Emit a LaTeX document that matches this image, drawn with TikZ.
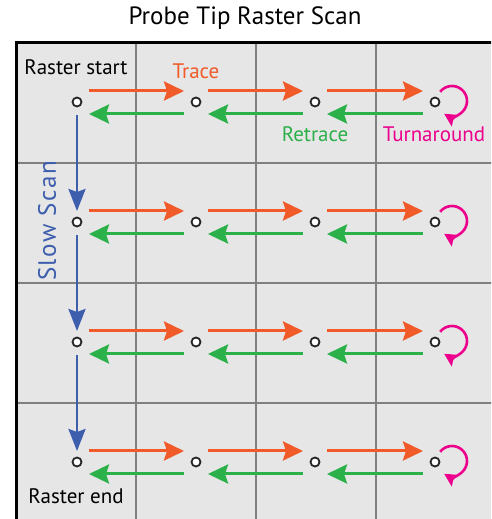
\documentclass[tikz,border=0pt]{standalone}
\usepackage{fontspec}
\setmainfont{PT Sans}
\usetikzlibrary{arrows.meta}
\definecolor{traceC}{HTML}{F15A29}
\definecolor{retraceC}{HTML}{2BB04A}
\definecolor{slowC}{HTML}{3D5DAD}
\definecolor{turnC}{HTML}{EC008C}
\definecolor{gridC}{HTML}{808080}
\definecolor{cellC}{HTML}{E6E6E6}
\tikzset{
  dot/.style={circle, draw=black!85, fill=white, line width=1.8pt, inner sep=0pt, minimum size=9pt},
  tracearrow/.style={traceC, line width=3pt, -{Stealth[length=20pt,width=19pt,inset=3pt]}},
  retracearrow/.style={retraceC, line width=3pt, -{Stealth[length=20pt,width=19pt,inset=3pt]}},
  slowarrow/.style={slowC, line width=2.6pt, -{Stealth[length=22pt,width=17pt,inset=3pt]}},
  turnarrow/.style={turnC, line width=2.6pt, -{Stealth[length=13pt,width=13pt,inset=2pt]}},
  lbl/.style={font=\fontsize{21}{24}\selectfont, inner sep=0pt},
}
\begin{document}
\begin{tikzpicture}[x=1pt,y=1pt]
\useasboundingbox (0,0) rectangle (491,519);
\begin{scope}
\clip (0,0) rectangle (491,519);
\fill[cellC] (16,-4) rectangle (496,476);
\foreach \x in {136,256,376} \draw[gridC, line width=2pt] (\x,-4) -- (\x,476);
\foreach \y in {356,236,116} \draw[gridC, line width=2pt] (16,\y) -- (496,\y);
\draw[black, line width=3pt] (16,-10) -- (16,476) -- (500,476);
\end{scope}
\node[font=\fontsize{25}{30}\selectfont, inner sep=0pt] (title) at (245,501) {Probe Tip Raster Scan};
% dots
\foreach \r/\y in {1/417,2/297,3/177,4/57}{
  \foreach \c/\x in {1/77,2/196,3/315,4/435}{
    \node[dot] (d\r\c) at (\x,\y) {};
  }
}
% trace / retrace arrows
\foreach \r in {1,2,3,4}{
  \foreach \c/\n in {1/2,2/3,3/4}{
    \draw[tracearrow] ([shift={(12,11)}]d\r\c.center) -- ([shift={(-12,11)}]d\r\n.center);
    \draw[retracearrow] ([shift={(-12,-12)}]d\r\n.center) -- ([shift={(12,-12)}]d\r\c.center);
  }
  \draw[turnarrow] ([shift={(17,1)}]d\r4.center) ++(142:15) arc[start angle=142, end angle=-122, radius=15];
}
% slow scan arrows
\foreach \r/\n in {1/2,2/3,3/4}{
  \draw[slowarrow] ([shift={(0,-13)}]d\r1.center) -- ([shift={(0,11)}]d\n1.center);
}
\node[lbl] (rs) at (76,452) {Raster start};
\node[lbl, text=traceC] (tr) at (196,448) {Trace};
\node[lbl, text=retraceC] (rt) at (315,385) {Retrace};
\node[lbl, text=turnC] (ta) at (434,385) {Turnaround};
\node[lbl] (re) at (76,23) {Raster end};
\node[font=\fontsize{25}{28}\selectfont\addfontfeature{LetterSpace=6}, inner sep=0pt, text=slowC, rotate=90] (ss) at (47,298) {Slow Scan};
\end{tikzpicture}
\end{document}
